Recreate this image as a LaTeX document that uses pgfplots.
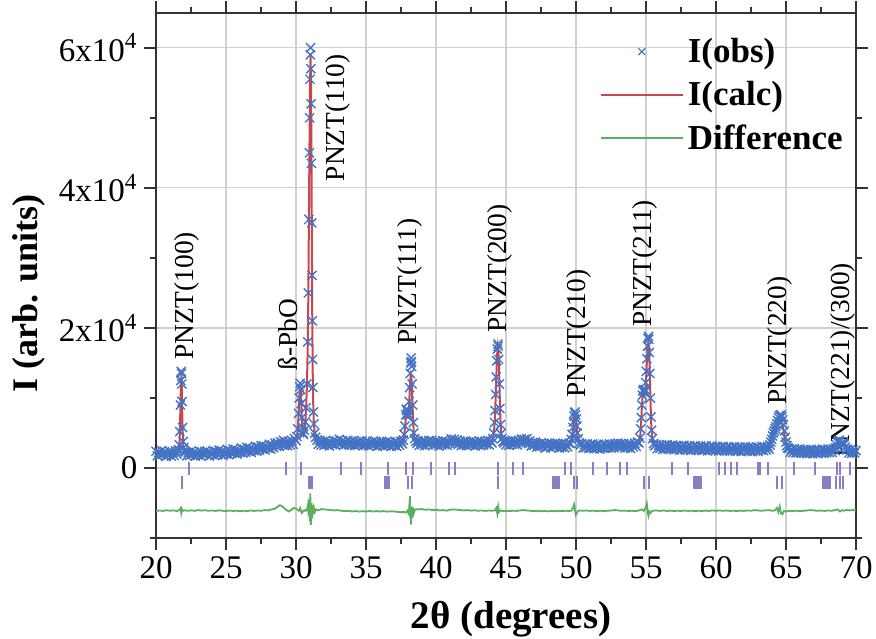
\documentclass[border=0pt]{standalone}
\usepackage{fontspec}
\setmainfont{Liberation Serif}
\usepackage{pgfplots}
\pgfplotsset{compat=1.18}
\definecolor{obsblue}{HTML}{4472C4}
\definecolor{calcred}{HTML}{C8474D}
\definecolor{diffgreen}{HTML}{5BAF60}
\definecolor{braggpurple}{HTML}{8E7CC3}
\pgfplotsset{
  obslegend/.style={legend image code/.code={\draw[mark repeat=2,mark phase=2,##1] plot coordinates {(0pt,0pt) (20.5pt,0pt) (41pt,0pt)};}},
  linelegend/.style={legend image code/.code={\draw[##1] (0pt,0pt) -- (41pt,0pt);}},
}

\begin{document}
\begin{tikzpicture}
\begin{axis}[
  scale only axis,
  width=350pt,
  height=262.7pt,
  xmin=20, xmax=70,
  ymin=-10000, ymax=65000,
  xtick={20,25,...,70},
  minor x tick num=1,
  ytick={0,20000,40000,60000},
  yticklabels={0,2x10\textsuperscript{4},4x10\textsuperscript{4},6x10\textsuperscript{4}},
  minor ytick={-10000,10000,30000,50000},
  scaled y ticks=false,
  tick align=outside,
  major tick length=5.8pt,
  minor tick length=3pt,
  grid=major,
  major grid style={draw=black!18, line width=0.6pt},
  axis line style={line width=0.8pt, black!80},
  every tick/.style={black!80, line width=0.8pt},
  /pgf/number format/assume math mode=true,
  ticklabel style={font=\fontsize{16.5}{16.5}\selectfont},
  xlabel={2θ (degrees)},
  ylabel={I (arb. units)},
  xlabel style={font=\fontsize{19.5}{19.5}\selectfont\bfseries, yshift=-4pt, xshift=2.5pt},
  ylabel style={font=\fontsize{18}{18}\selectfont\bfseries, at={(ticklabel cs:0.466)}},
  legend cell align=left,
  legend style={at={(rel axis cs:0.99,0.964)}, anchor=north east, draw=none, fill=none,
    font=\fontsize{17.5}{17.5}\selectfont\bfseries, row sep=4pt, inner sep=1pt},
]

% observed
\addplot[forget plot, only marks, mark=x, mark size=3.2pt, obsblue, mark options={line width=0.7pt}]
coordinates {
(20.0,2400) (20.1,1750) (20.2,2250) (20.3,1850) (20.4,2500) (20.5,1950) (20.6,2350) (20.7,1650) (20.8,2150) (20.9,1900)
(21.0,2350) (21.1,1700) (21.2,2200) (21.3,1800) (21.4,2450) (21.5,2000) (21.6,2500)
(21.62,2600) (21.66,3300) (21.70,5200) (21.74,9000) (21.78,12500) (21.80,13800) (21.82,13500) (21.84,12000) (21.86,9500)
(21.90,5800) (21.94,3800) (21.98,2900) (22.02,2500) (22.1,2300)
(22.2,1750) (22.3,2250) (22.4,1800) (22.5,2400) (22.6,1950) (22.7,2300) (22.8,1700) (22.9,2150) (23.0,1850)
(23.1,2450) (23.2,1750) (23.3,2250) (23.4,1900) (23.5,2400) (23.6,2000) (23.7,2350) (23.8,1700) (23.9,2200) (24.0,1900)
(24.1,2500) (24.2,1800) (24.3,2350) (24.4,1900) (24.5,2550) (24.6,2100) (24.7,2450) (24.8,1800) (24.9,2300) (25.0,2000)
(25.1,2650) (25.2,1900) (25.3,2450) (25.4,2050) (25.5,2700) (25.6,2150) (25.7,2600) (25.8,2000) (25.9,2500) (26.0,2200)
(26.1,2850) (26.2,2150) (26.3,2700) (26.4,2250) (26.5,2950) (26.6,2400) (26.7,2850) (26.8,2250) (26.9,2750) (27.0,2500)
(27.1,3100) (27.2,2400) (27.3,3000) (27.4,2550) (27.5,3200) (27.6,2700) (27.7,3150) (27.8,2550) (27.9,3050) (28.0,2800)
(28.1,3400) (28.2,2700) (28.3,3300) (28.4,2900) (28.5,3550) (28.6,3100) (28.7,3600) (28.8,3100) (28.9,3750) (29.0,3400)
(29.1,3950) (29.2,3200) (29.3,3700) (29.4,3200) (29.5,3850) (29.6,3300) (29.7,3900) (29.8,3400) (29.9,4200) (30.0,3900)
(30.06,4500) (30.12,5600) (30.18,7800) (30.22,10000) (30.26,11600) (30.30,12100) (30.34,11200) (30.38,9200) (30.42,7200)
(30.46,5800) (30.50,5000) (30.54,4800) (30.60,5400) (30.66,6600) (30.72,8600) (30.78,12000) (30.84,18000) (30.88,25000)
(30.92,35500) (30.96,45000) (30.98,50000) (31.00,55500) (31.02,59000) (31.04,60000) (31.06,57000) (31.08,52000)
(31.10,43500) (31.12,35000) (31.14,27500) (31.16,21000) (31.18,15500) (31.20,11500) (31.24,8000) (31.28,6300)
(31.34,5000) (31.40,4400) (31.5,4000) (31.6,3400)
(31.7,3950) (31.8,3300) (31.9,3800) (32.0,3250) (32.1,3900) (32.2,3400) (32.3,3750) (32.4,3150) (32.5,3650) (32.6,3350)
(32.7,3950) (32.8,3300) (32.9,3850) (33.0,3500) (33.1,4100) (33.2,3450) (33.3,3900) (33.4,3250) (33.5,3700) (33.6,3400)
(33.7,3950) (33.8,3300) (33.9,3800) (34.0,3350) (34.1,3900) (34.2,3200) (34.3,3700) (34.4,3250) (34.5,3850) (34.6,3400)
(34.7,3900) (34.8,3200) (34.9,3600) (35.0,3300) (35.1,3850) (35.2,3150) (35.3,3650) (35.4,3250) (35.5,3850) (35.6,3350)
(35.7,3800) (35.8,3100) (35.9,3600) (36.0,3250) (36.1,3800) (36.2,3150) (36.3,3650) (36.4,3200) (36.5,3800) (36.6,3300)
(36.7,3750) (36.8,3100) (36.9,3550) (37.0,3250) (37.1,3800) (37.2,3100) (37.3,3600) (37.4,3250) (37.5,3850) (37.6,3450)
(37.66,4000) (37.72,4800) (37.78,6000) (37.84,7600) (37.88,8400) (37.92,8200) (37.96,7800) (38.00,7600) (38.04,8200)
(38.08,9500) (38.12,11500) (38.16,13500) (38.20,15000) (38.22,15700) (38.24,15200) (38.26,14500) (38.30,12000)
(38.34,9000) (38.38,6500) (38.42,5000) (38.48,4200) (38.56,3800) (38.64,3500)
(38.7,3900) (38.8,3250) (38.9,3700) (39.0,3300) (39.1,3900) (39.2,3200) (39.3,3750) (39.4,3350) (39.5,3950) (39.6,3500)
(39.7,3950) (39.8,3250) (39.9,3750) (40.0,3300) (40.1,3800) (40.2,3150) (40.3,3650) (40.4,3300) (40.5,3900) (40.6,3350)
(40.7,3850) (40.8,3250) (40.9,3750) (41.0,3500) (41.1,4150) (41.2,3600) (41.3,4100) (41.4,3550) (41.5,4000) (41.6,3400)
(41.7,3850) (41.8,3200) (41.9,3700) (42.0,3300) (42.1,3850) (42.2,3200) (42.3,3700) (42.4,3250) (42.5,3850) (42.6,3350)
(42.7,3800) (42.8,3150) (42.9,3650) (43.0,3300) (43.1,3850) (43.2,3200) (43.3,3700) (43.4,3300) (43.5,3850) (43.6,3400)
(43.7,3950) (43.8,3300) (43.9,3850) (44.0,3600)
(44.06,4200) (44.12,5000) (44.18,6500) (44.22,8200) (44.26,10500) (44.30,13000) (44.34,15300) (44.38,17000) (44.42,17700)
(44.44,17400) (44.48,15500) (44.52,12000) (44.56,8500) (44.60,6200) (44.64,4900) (44.70,4200) (44.78,3800) (44.86,3600)
(44.9,3950) (45.0,3300) (45.1,3850) (45.2,3250) (45.3,3800) (45.4,3350) (45.5,3900) (45.6,3400) (45.7,3850) (45.8,3300)
(45.9,3950) (46.0,3700) (46.1,4150) (46.2,3600) (46.3,4100) (46.4,3650) (46.5,4200) (46.6,3500) (46.7,3850) (46.8,3150)
(46.9,3650) (47.0,3250) (47.1,3700) (47.2,3000) (47.3,3500) (47.4,3050) (47.5,3600) (47.6,3150) (47.7,3550) (47.8,2850)
(47.9,3400) (48.0,3050) (48.1,3550) (48.2,2900) (48.3,3450) (48.4,3000) (48.5,3550) (48.6,3100) (48.7,3500) (48.8,2850)
(48.9,3350) (49.0,2950) (49.1,3500) (49.2,2900) (49.3,3400) (49.4,3050) (49.5,3550) (49.6,3500)
(49.66,4100) (49.72,4800) (49.78,5800) (49.82,6600) (49.86,7400) (49.90,7900) (49.94,8000) (49.98,7600) (50.02,7000)
(50.06,6000) (50.10,5000) (50.16,4200) (50.24,3600) (50.32,3300)
(50.4,3500) (50.5,2850) (50.6,3350) (50.7,2900) (50.8,3450) (50.9,2800) (51.0,3300) (51.1,2900) (51.2,3450) (51.3,2750)
(51.4,3250) (51.5,2850) (51.6,3400) (51.7,2700) (51.8,3200) (51.9,2850) (52.0,3400) (52.1,2800) (52.2,3300) (52.3,2900)
(52.4,3450) (52.5,2850) (52.6,3350) (52.7,2900) (52.8,3500) (52.9,3100) (53.0,3550) (53.1,3000) (53.2,3500) (53.3,3050)
(53.4,3500) (53.5,2850) (53.6,3300) (53.7,2900) (53.8,3450) (53.9,2800) (54.0,3300) (54.1,3000) (54.2,3550) (54.3,3100)
(54.4,3700) (54.5,3600)
(54.56,4300) (54.62,5600) (54.66,7200) (54.70,9000) (54.74,10400) (54.78,11000) (54.82,11200) (54.86,11000) (54.90,10800)
(54.94,11200) (54.98,12200) (55.02,13800) (55.06,15600) (55.10,17400) (55.14,18500) (55.18,18800) (55.20,18400)
(55.24,16500) (55.28,13500) (55.32,10000) (55.36,7300) (55.40,5400) (55.46,4200) (55.54,3500) (55.62,3200)
(55.7,3350) (55.8,2750) (55.9,3250) (56.0,2800) (56.1,3300) (56.2,2650) (56.3,3150) (56.4,2800) (56.5,3350) (56.6,2700)
(56.7,3200) (56.8,2750) (56.9,3300) (57.0,2600) (57.1,3150) (57.2,2700) (57.3,3200) (57.4,2550) (57.5,3100) (57.6,2700)
(57.7,3250) (57.8,2600) (57.9,3050) (58.0,2650) (58.1,3200) (58.2,2500) (58.3,3000) (58.4,2650) (58.5,3200) (58.6,2550)
(58.7,3050) (58.8,2650) (58.9,3150) (59.0,2500) (59.1,3000) (59.2,2600) (59.3,3150) (59.4,2450) (59.5,2950) (59.6,2600)
(59.7,3150) (59.8,2500) (59.9,2950) (60.0,2550) (60.1,3100) (60.2,2450) (60.3,2950) (60.4,2550) (60.5,3100) (60.6,2450)
(60.7,2900) (60.8,2500) (60.9,3050) (61.0,2400) (61.1,2900) (61.2,2550) (61.3,3050) (61.4,2400) (61.5,2900) (61.6,2500)
(61.7,3000) (61.8,2350) (61.9,2850) (62.0,2500) (62.1,3050) (62.2,2400) (62.3,2950) (62.4,2500) (62.5,3000) (62.6,2350)
(62.7,2850) (62.8,2450) (62.9,3000) (63.0,2350) (63.1,2900) (63.2,2550) (63.3,3100) (63.4,2500) (63.5,3000) (63.6,2600)
(63.7,3100) (63.8,2700)
(63.86,3300) (63.92,3700) (63.98,4100) (64.04,4600) (64.10,5000) (64.16,5300) (64.22,5600) (64.28,5900) (64.34,6300)
(64.40,6800) (64.46,7200) (64.52,7500) (64.58,7400) (64.64,7600) (64.70,7300) (64.76,6900) (64.82,6200) (64.88,5300)
(64.94,4400) (65.00,3700) (65.06,3200) (65.12,2900)
(65.2,2800) (65.3,2250) (65.4,2700) (65.5,2200) (65.6,2750) (65.7,2150) (65.8,2650) (65.9,2200) (66.0,2700) (66.1,2100)
(66.2,2550) (66.3,2150) (66.4,2650) (66.5,2050) (66.6,2550) (66.7,2150) (66.8,2650) (66.9,2050) (67.0,2550) (67.1,2150)
(67.2,2650) (67.3,2050) (67.4,2500) (67.5,2150) (67.6,2700) (67.7,2100) (67.8,2600) (67.9,2200) (68.0,2700) (68.1,2200)
(68.2,2650) (68.3,2250) (68.4,2750) (68.5,2500)
(68.56,2900) (68.62,3300) (68.68,3700) (68.74,3900) (68.80,4000) (68.86,3800) (68.92,3500) (68.98,3300) (69.04,3500)
(69.10,3600) (69.16,3400) (69.22,3000) (69.28,2700) (69.36,2600)
(69.4,2650) (69.5,2150) (69.6,2600) (69.7,2100) (69.8,2550) (69.9,2150) (70.0,2500)
};

% calculated
\addplot[forget plot, calcred, line width=1pt, mark=none] coordinates {
(20,2050) (20.5,2100) (21,2050) (21.5,2100) (21.62,2300) (21.66,2900) (21.70,4800) (21.74,8300) (21.78,11800)
(21.80,12900) (21.82,13000) (21.84,11600) (21.86,9200) (21.90,5600) (21.94,3600) (21.98,2700) (22.02,2300) (22.1,2100)
(22.5,2050) (23,2050) (23.5,2100) (24,2100) (24.5,2200) (25,2300) (25.5,2350) (26,2500) (26.5,2650) (27,2800)
(27.5,2950) (28,3100) (28.5,3300) (28.8,3400) (29.0,3550) (29.2,3500) (29.5,3550) (29.8,3700) (30.0,3950)
(30.06,4400) (30.12,5400) (30.18,7400) (30.22,9400) (30.26,11000) (30.30,11800) (30.34,11000) (30.38,9000)
(30.42,7000) (30.46,5600) (30.50,4900) (30.54,4700) (30.60,5200) (30.66,6400) (30.72,8400) (30.78,11800)
(30.84,17500) (30.88,24500) (30.92,35000) (30.96,45500) (31.00,54500) (31.04,58800) (31.08,54000) (31.12,38000)
(31.16,22000) (31.20,12500) (31.24,8200) (31.28,6200) (31.34,4900) (31.40,4300) (31.5,3900) (31.7,3600)
(32,3550) (32.5,3550) (33,3600) (33.2,3700) (33.5,3600) (34,3550) (35,3500) (36,3500) (37,3450) (37.5,3500)
(37.66,3800) (37.72,4500) (37.78,5600) (37.84,7000) (37.88,7600) (37.92,7500) (37.96,7200) (38.00,7200)
(38.04,7800) (38.08,9000) (38.12,10800) (38.16,12500) (38.20,13300) (38.24,13000) (38.28,11500) (38.32,9000)
(38.38,6200) (38.42,4800) (38.48,4000) (38.56,3700) (38.7,3550) (39,3500) (39.6,3600) (40,3500) (40.5,3550)
(41,3700) (41.3,3800) (41.6,3650) (42,3500) (43,3500) (43.8,3550) (44.0,3700) (44.06,4000) (44.12,4800)
(44.18,6200) (44.22,7800) (44.26,10000) (44.30,12500) (44.34,14800) (44.38,16600) (44.42,17400) (44.46,16800)
(44.50,14600) (44.54,11300) (44.58,8200) (44.62,6000) (44.66,4800) (44.72,4100) (44.80,3750) (44.9,3600)
(45.5,3550) (46.0,3800) (46.3,3850) (46.6,3700) (47,3400) (47.5,3250) (48,3150) (48.5,3100) (49,3100) (49.5,3200)
(49.6,3400) (49.66,3900) (49.72,4600) (49.78,5500) (49.82,6300) (49.86,7000) (49.90,7500) (49.94,7600) (49.98,7300)
(50.02,6600) (50.06,5700) (50.10,4800) (50.16,4000) (50.24,3500) (50.32,3250) (50.5,3100) (51,3050) (51.5,3000)
(52,3050) (52.5,3100) (52.9,3250) (53.2,3250) (53.6,3100) (54,3100) (54.3,3250) (54.5,3500) (54.56,4100)
(54.62,5300) (54.66,6800) (54.70,8500) (54.74,9800) (54.78,10500) (54.82,10700) (54.86,10500) (54.90,10400)
(54.94,10800) (54.98,11800) (55.02,13300) (55.06,15000) (55.10,16600) (55.14,17700) (55.18,18000) (55.22,17000)
(55.26,14500) (55.30,11200) (55.34,8200) (55.38,6000) (55.42,4700) (55.48,3900) (55.56,3400) (55.7,3100)
(56,3000) (57,2900) (58,2850) (59,2800) (60,2750) (61,2700) (62,2700) (63,2750) (63.5,2800) (63.8,2950)
(63.86,3200) (63.92,3550) (63.98,3950) (64.04,4350) (64.10,4750) (64.16,5050) (64.22,5350) (64.28,5650)
(64.34,5950) (64.40,6200) (64.46,6350) (64.52,6400) (64.58,6450) (64.64,6400) (64.70,6300) (64.76,6000)
(64.82,5500) (64.88,4800) (64.94,4100) (65.00,3500) (65.06,3100) (65.12,2850) (65.3,2550) (66,2400) (67,2350)
(68,2450) (68.5,2650) (68.62,3000) (68.68,3350) (68.74,3500) (68.80,3550) (68.86,3400) (68.92,3200) (68.98,3100)
(69.04,3250) (69.10,3300) (69.16,3150) (69.22,2850) (69.30,2600) (69.5,2400) (70,2350)
};

% difference
\addplot[forget plot, diffgreen, line width=0.9pt, mark=none] coordinates {
(20,-6150) (20.25,-6050) (20.5,-6120) (20.75,-6020) (21,-6100) (21.25,-6040) (21.5,-6130) (21.7,-5950) (21.76,-5750)
(21.8,-6350) (21.84,-5850) (21.9,-6150) (22,-6020) (22.25,-6100) (22.5,-6030) (22.75,-6110) (23,-6000) (23.25,-6080)
(23.5,-6020) (23.75,-6100) (24,-6050) (24.25,-6120) (24.5,-6030) (24.75,-6100) (25,-6150) (25.25,-6060) (25.5,-6130)
(25.75,-6080) (26,-6170) (26.25,-6090) (26.5,-6150) (26.75,-6050) (27,-6120) (27.25,-6060) (27.5,-6100) (27.75,-6000)
(28,-6050) (28.25,-5900) (28.5,-5800) (28.7,-5500) (28.85,-5300) (29,-5450) (29.15,-5700) (29.3,-5950) (29.5,-6200)
(29.7,-5900) (29.85,-5700) (30,-5800) (30.1,-5950) (30.2,-6100) (30.3,-5700) (30.4,-6400) (30.5,-6200) (30.6,-6000)
(30.7,-6100) (30.8,-5800) (30.86,-5200) (30.9,-6800) (30.94,-4500) (30.98,-7600) (31.02,-3600) (31.06,-8100)
(31.1,-5000) (31.14,-7200) (31.18,-5300) (31.22,-6600) (31.28,-5700) (31.34,-6300) (31.45,-5900) (31.6,-6050)
(31.8,-5850) (32,-5900) (32.25,-5950) (32.5,-6000) (32.75,-6050) (33,-6000) (33.25,-6100) (33.5,-6150) (33.75,-6100)
(34,-6200) (34.25,-6130) (34.5,-6220) (34.75,-6150) (35,-6200) (35.25,-6130) (35.5,-6210) (35.75,-6140) (36,-6200)
(36.25,-6150) (36.5,-6220) (36.75,-6170) (37,-6200) (37.25,-6250) (37.5,-6300) (37.7,-6250) (37.85,-6350) (37.95,-6100)
(38.05,-6500) (38.1,-5200) (38.14,-4000) (38.18,-6800) (38.22,-8050) (38.26,-5500) (38.3,-7100) (38.34,-5600)
(38.4,-6500) (38.5,-5900) (38.7,-5900) (39,-5850) (39.25,-5950) (39.5,-5900) (39.75,-6000) (40,-5950) (40.25,-6050)
(40.5,-6000) (40.75,-6080) (41,-5950) (41.25,-5900) (41.5,-5950) (41.75,-6000) (42,-6050) (42.25,-6000) (42.5,-6080)
(42.75,-6020) (43,-6100) (43.25,-6050) (43.5,-6120) (43.75,-6060) (44,-6100) (44.2,-6050) (44.3,-5700) (44.38,-6500)
(44.44,-5500) (44.5,-6300) (44.6,-6050) (44.8,-6150) (45,-6100) (45.25,-6150) (45.5,-6080) (45.75,-6120) (46,-6050)
(46.25,-6000) (46.5,-6050) (46.75,-6100) (47,-6150) (47.25,-6100) (47.5,-6170) (47.75,-6120) (48,-6180) (48.25,-6130)
(48.5,-6160) (48.75,-6100) (49,-6150) (49.25,-6100) (49.5,-6130) (49.7,-6050) (49.8,-5600) (49.86,-5200) (49.92,-5800)
(49.98,-6700) (50.04,-6500) (50.12,-6200) (50.25,-6050) (50.5,-6100) (50.75,-6060) (51,-6120) (51.25,-6080)
(51.5,-6140) (51.75,-6090) (52,-6150) (52.25,-6100) (52.5,-6060) (52.75,-6000) (53,-6050) (53.25,-6100) (53.5,-6080)
(53.75,-6120) (54,-6100) (54.25,-6150) (54.5,-6050) (54.7,-5900) (54.85,-6100) (55,-5500) (55.06,-5100) (55.12,-6400)
(55.18,-6850) (55.24,-6200) (55.32,-6400) (55.45,-6100) (55.7,-6050) (56,-6120) (56.25,-6050) (56.5,-6130)
(56.75,-6070) (57,-6140) (57.25,-6080) (57.5,-6130) (57.75,-6060) (58,-6120) (58.25,-6080) (58.5,-6150) (58.75,-6090)
(59,-6140) (59.25,-6070) (59.5,-6120) (59.75,-6060) (60,-6100) (60.25,-6050) (60.5,-6110) (60.75,-6060) (61,-6120)
(61.25,-6080) (61.5,-6140) (61.75,-6070) (62,-6120) (62.25,-6050) (62.5,-6100) (62.75,-6000) (63,-6050) (63.25,-6100)
(63.5,-6050) (63.75,-6000) (64,-6100) (64.2,-6050) (64.35,-5700) (64.45,-6300) (64.55,-5500) (64.65,-6500)
(64.75,-6600) (64.85,-6100) (65,-6200) (65.25,-6100) (65.5,-6150) (65.75,-6080) (66,-6150) (66.25,-6100) (66.5,-6050)
(66.75,-6000) (67,-6050) (67.25,-6100) (67.5,-6060) (67.75,-6120) (68,-6050) (68.25,-6100) (68.5,-6000) (68.7,-5900)
(68.85,-6200) (69,-6000) (69.15,-6100) (69.35,-5950) (69.5,-6050) (69.75,-6000) (70,-6050)
};

% Bragg positions, first row
\addplot[forget plot, only marks, mark=|, mark size=3.25pt, braggpurple, mark options={line width=1pt}] coordinates {
(22.38,-70) (29.29,-70) (30.33,-70) (33.19,-70) (34.67,-70) (36.6,-70) (37.86,-70) (38.33,-70) (39.64,-70)
(40.9,-70) (41.38,-70) (44.4,-70) (45.52,-70) (46.19,-70) (49.24,-70) (49.62,-70) (51.19,-70) (52.24,-70)
(53.14,-70) (53.62,-70) (56.86,-70) (58.02,-70) (60.19,-70) (60.62,-70) (61.09,-70) (61.48,-70) (62.98,-70)
(63.17,-70) (63.69,-70) (65.57,-70) (67.05,-70) (68.67,-70) (68.86,-70) (69.55,-70)
};
% Bragg positions, second row
\addplot[forget plot, only marks, mark=|, mark size=3.25pt, braggpurple, mark options={line width=1pt}] coordinates {
(21.83,-2070) (30.95,-2070) (31.0,-2070) (31.05,-2070) (31.1,-2070) (31.14,-2070) (36.36,-2070) (36.45,-2070)
(36.55,-2070) (36.62,-2070) (37.98,-2070) (38.26,-2070) (44.4,-2070) (48.38,-2070) (48.45,-2070) (48.52,-2070)
(48.6,-2070) (48.68,-2070) (48.76,-2070) (49.86,-2070) (50.09,-2070) (54.86,-2070) (55.24,-2070) (58.43,-2070)
(58.5,-2070) (58.6,-2070) (58.7,-2070) (58.8,-2070) (58.9,-2070) (64.33,-2070) (64.71,-2070) (67.62,-2070)
(67.7,-2070) (67.8,-2070) (67.9,-2070) (68.0,-2070) (68.14,-2070) (68.57,-2070) (68.86,-2070) (69.1,-2070)
};

\addlegendimage{only marks, mark=x, mark size=2.4pt, obsblue, mark options={line width=0.6pt}, obslegend}
\addlegendentry{I(obs)}
\addlegendimage{calcred, line width=1pt, linelegend}
\addlegendentry{I(calc)}
\addlegendimage{diffgreen, line width=1pt, linelegend}
\addlegendentry{Difference}

\begin{scope}[every node/.style={rotate=90, anchor=west, inner sep=0pt, font=\fontsize{13.7}{13.7}\selectfont}]
\node at (axis cs:22.2,15400) {PNZT(100)};
\node at (axis cs:29.43,13900) {ß-PbO};
\node at (axis cs:33.0,40900) {PNZT(110)};
\node at (axis cs:38.14,17600) {PNZT(111)};
\node at (axis cs:44.57,19300) {PNZT(200)};
\node at (axis cs:50.2,10000) {PNZT(210)};
\node at (axis cs:54.93,20100) {PNZT(211)};
\node at (axis cs:64.57,9000) {PNZT(220)};
\node at (axis cs:69.07,1400) {PNZT(221)/(300)};
\end{scope}
\end{axis}
\pgfresetboundingbox
\path ([xshift=-78pt,yshift=-50pt]current axis.south west) rectangle ([xshift=10pt,yshift=6.35pt]current axis.north east);
\end{tikzpicture}
\end{document}
